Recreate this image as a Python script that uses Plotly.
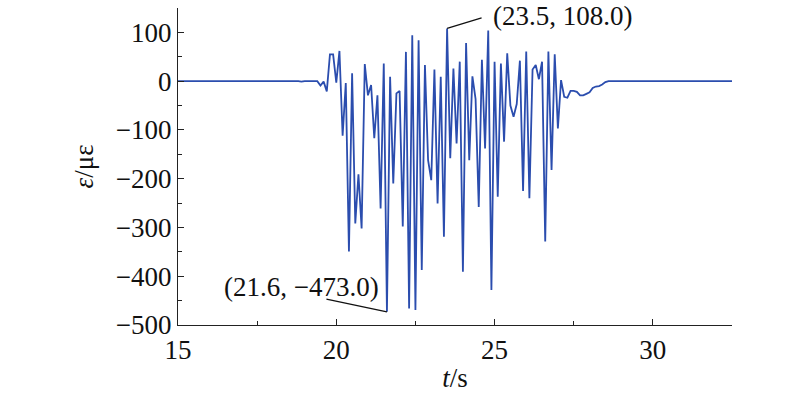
import plotly.graph_objects as go

# Time (s) and strain (µε)
t_pre = [15.0, 15.8, 15.9, 16.0, 18.1, 18.2, 18.4, 18.5, 18.8, 18.9, 19.0, 19.2]
e_pre = [0, 0, 1, 0, 0, 1, 1, 0, 0, -1, 0, 0]

t_mid = [19.3, 19.4, 19.5, 19.6, 19.7, 19.8, 19.9, 20.0, 20.1, 20.2,
         20.3, 20.4, 20.5, 20.6, 20.7, 20.8, 20.9, 21.0, 21.1, 21.2,
         21.3, 21.4, 21.5, 21.6, 21.7, 21.8, 21.9, 22.0, 22.1, 22.2,
         22.3, 22.4, 22.5, 22.6, 22.7, 22.8, 22.9, 23.0, 23.1, 23.2,
         23.3, 23.4, 23.5, 23.6, 23.7, 23.8, 23.9, 24.0, 24.1, 24.2,
         24.3, 24.4, 24.5, 24.6, 24.7, 24.8, 24.9, 25.0, 25.1, 25.2,
         25.3, 25.4, 25.5, 25.6, 25.7, 25.8, 25.9, 26.0, 26.1, 26.2,
         26.3, 26.4, 26.5, 26.6, 26.7, 26.8, 26.9, 27.0, 27.1, 27.2,
         27.3, 27.4, 27.5, 27.6, 27.7, 27.8, 27.9, 28.0, 28.1, 28.2,
         28.3, 28.4, 28.5, 28.6]
e_mid = [0, 0, -9, -1, -21, 55, 55, -3, 62, -112,
         -4, -349, 16, -292, -191, -302, 35, -29, -8, -117,
         -29, -261, 36, -473, 9, -210, -25, -20, -298, 60,
         -466, 94, -469, 84, -387, 33, -162, -203, 24, -251,
         9, -319, 108, -158, 26, -128, 40, -391, 78, -162,
         10, -37, -258, 44, -138, 104, -428, 40, -237, 36,
         -124, 57, -50, -73, -47, 42, -225, 61, -240, 24,
         33, 4, 40, -329, 61, -182, 55, -97, 2, -32,
         -34, -20, -20, -22, -29, -29, -26, -23, -14, -11,
         -10, -7, -2, 0]

t_post = [32.5]
e_post = [0]

t = t_pre + t_mid + t_post
eps = e_pre + e_mid + e_post

peak_max = (23.5, 108.0)
peak_min = (21.6, -473.0)

x_ticks = [15, 20, 25, 30]
y_ticks = [100, 0, -100, -200, -300, -400, -500]

FONT = "Liberation Serif"
FS = 27

fig = go.Figure()
fig.add_trace(go.Scatter(x=t, y=eps, mode="lines",
                         line=dict(color="#2B4DAE", width=1.8),
                         showlegend=False, hoverinfo="skip"))

def fmt(v):
    return f"{v:.1f}".replace("-", "\u2212")

# labels
fig.add_annotation(x=peak_max[0], y=peak_max[1], xref="x", yref="y",
                   text=f"({fmt(peak_max[0])}, {fmt(peak_max[1])})",
                   showarrow=False, xshift=115, yshift=12,
                   font=dict(family=FONT, size=FS, color="#111"))
fig.add_annotation(x=peak_min[0], y=peak_min[1], xref="x", yref="y",
                   text=f"({fmt(peak_min[0])}, {fmt(peak_min[1])})",
                   showarrow=False, xshift=-85, yshift=25,
                   font=dict(family=FONT, size=FS, color="#111"))
# leader lines
fig.add_annotation(x=peak_max[0], y=peak_max[1], xref="x", yref="y",
                   text=" ", font=dict(size=1), showarrow=True, arrowhead=0,
                   arrowwidth=1.3, arrowcolor="#111", ax=36, ay=-11, standoff=0,
                   startstandoff=0)
fig.add_annotation(x=peak_min[0], y=peak_min[1], xref="x", yref="y",
                   text=" ", font=dict(size=1), showarrow=True, arrowhead=0,
                   arrowwidth=1.3, arrowcolor="#111", ax=-62, ay=-13, standoff=0,
                   startstandoff=0)

axis_common = dict(showline=True, linecolor="#222", linewidth=1.3,
                   ticks="inside", ticklen=6, tickwidth=1.2, tickcolor="#222",
                   showgrid=False, zeroline=False, mirror=False,
                   tickfont=dict(family=FONT, size=FS, color="#111"))

fig.update_xaxes(range=[15, 32.5], tickvals=x_ticks,
                 ticktext=[str(v) for v in x_ticks],
                 minor=dict(dtick=2.5, tick0=15, ticks="inside", ticklen=4,
                            tickcolor="#222", showgrid=False),
                 title=dict(text="<i>t</i>/s", font=dict(family=FONT, size=FS, color="#111"),
                            standoff=4),
                 **axis_common)
fig.update_yaxes(range=[-500, 150], tickvals=y_ticks,
                 ticktext=[str(v).replace("-", "\u2212") for v in y_ticks],
                 minor=dict(dtick=50, tick0=0, ticks="inside", ticklen=4,
                            tickcolor="#222", showgrid=False),
                 title=dict(text="<i>ε</i>/με", font=dict(family=FONT, size=FS, color="#111"),
                            standoff=14),
                 **axis_common)

fig.update_layout(width=800, height=394,
                  margin=dict(l=178, r=68, t=8, b=69),
                  plot_bgcolor="white", paper_bgcolor="white")

fig.write_html("out.html", config={"displayModeBar": False},
               post_script="document.body.style.margin='0';document.body.style.overflow='hidden';")
